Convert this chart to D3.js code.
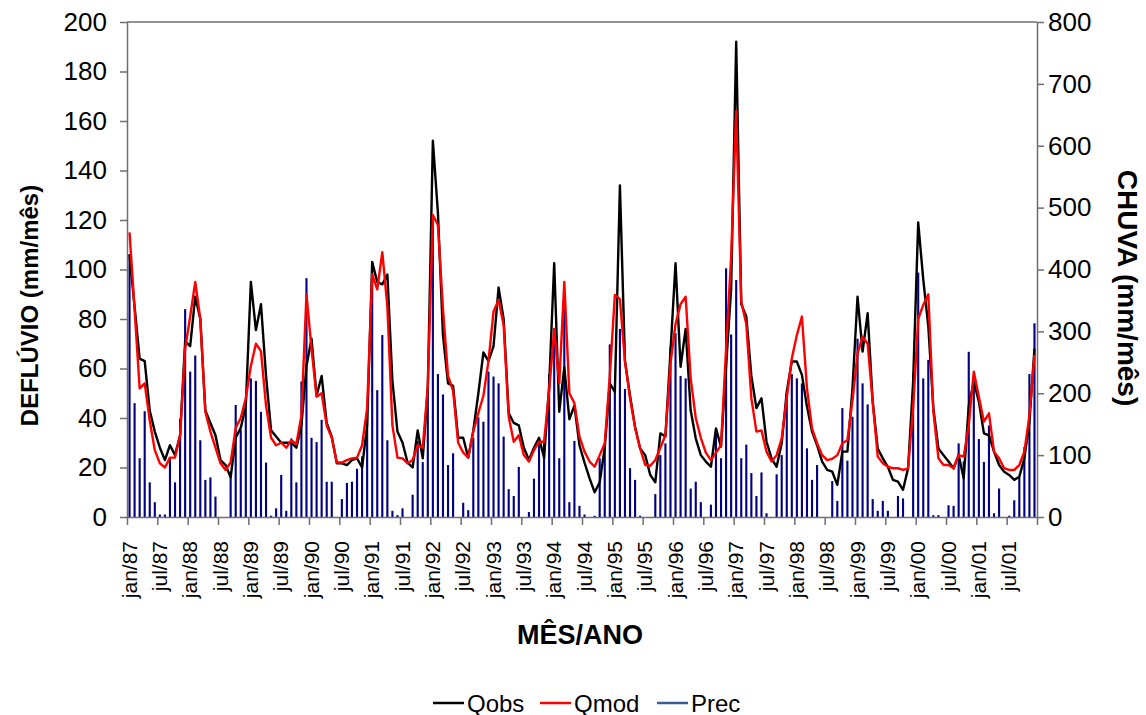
<!DOCTYPE html>
<html>
<head>
<meta charset="utf-8">
<script src="https://cdn.jsdelivr.net/npm/d3@7"></script>
<style>
  html, body { margin: 0; padding: 0; background: #fff; }
  svg { display: block; font-family: "Liberation Sans", Arial, sans-serif; }
</style>
</head>
<body>
<svg id="chart" width="1146" height="715"></svg>
<script>
// Monthly series, jan/1987 .. dez/2001
const years = ["87","88","89","90","91","92","93","94","95","96","97","98","99","00","01"];
const monthNames = ["jan","fev","mar","abr","mai","jun","jul","ago","set","out","nov","dez"];
const categories = years.flatMap(y => monthNames.map(m => m + "/" + y));

// Observed runoff (mm/mês)
const qobs = [
  106, 85, 64, 63, 43, 34.5, 28, 23, 29, 25, 33, 71,
  69, 89, 80, 43, 38, 33, 23, 21, 16, 32, 36, 45,
  95, 75.5, 86, 57, 35, 32.5, 30, 30, 30, 28, 37, 61,
  72, 49, 57, 38, 32.5, 21.7, 21.7, 21, 23, 23.7, 20, 37,
  103, 95, 94, 98, 55, 34.5, 30, 22, 20, 35, 23.7, 52,
  152, 123, 73.5, 54, 53, 32, 32, 24, 35, 50, 66.5, 63,
  69, 92.7, 80, 42, 38, 37, 28, 23, 28, 32, 24, 53,
  102.5, 42.5, 60.5, 39.5, 45, 29, 22, 15.6, 10, 14, 28, 54,
  50.6, 134, 63, 49, 36.5, 27.7, 25, 17, 14, 33.8, 32.5, 66.8,
  102.5, 60.7, 76, 43, 31.8, 25, 22.4, 20.3, 35.8, 28.4, 60.7, 92.4,
  192, 86, 81, 57, 44, 48, 30.4, 23.7, 20.3, 29.8, 50.6, 62.8,
  62.8, 57.4, 44.6, 34.5, 29, 22.4, 19, 18.3, 13, 26.4, 26.4, 52,
  89, 66.8, 82.3, 46.6, 27.7, 23.7, 20.3, 15, 14.3, 11, 19.7, 54.7,
  119, 96, 77, 44, 27.7, 25, 22.4, 19.7, 25, 15.6, 45, 54.7,
  46.6, 33.8, 33, 26.4, 21, 18.3, 17, 15, 16.3, 23.7, 38.5, 68
];

// Modelled runoff (mm/mês)
const qmod = [
  115, 84, 52, 54, 39, 27, 21.7, 20, 24, 24, 33, 68,
  81, 95, 80, 42.5, 34.5, 28, 21.7, 19, 22, 36, 40, 48,
  61, 70, 67, 45, 32, 29, 30, 28, 31, 29.5, 41, 90,
  68, 48.6, 50, 37, 32, 22, 22, 23, 23.7, 24, 29, 44,
  98, 92, 107, 85, 37, 24, 23.7, 21.7, 23, 29, 28, 53,
  122, 118, 84, 57, 51, 30, 26, 24, 34.5, 42, 49, 63,
  83, 87.7, 77.6, 40.5, 30.4, 33, 25, 22.4, 27, 30.4, 30.4, 51,
  76, 54, 95, 50, 46, 32.5, 26.4, 22.4, 20.3, 25, 29.8, 57,
  89.7, 88, 63, 48, 36, 27.7, 21, 20.7, 23, 28, 33, 62,
  78, 86, 89, 56, 40, 32, 26, 23, 26, 29, 68, 105,
  164, 87, 78, 48, 34.5, 35, 26.4, 22.4, 25, 31.8, 48, 64,
  73.5, 81, 52, 35.8, 29.8, 25, 23, 23.5, 25, 29.8, 31, 47,
  66, 72.9, 70, 46.6, 24.4, 21.7, 20.3, 19.7, 19.7, 19, 19.7, 44,
  80, 85.7, 90, 42.6, 23.7, 21, 21, 19.7, 25, 24.4, 37, 58.7,
  48.6, 38.5, 41.9, 26.4, 23.7, 19.7, 19, 19, 21, 26.4, 41, 65.5
];

// Rainfall (mm/mês)
const prec = [
  425, 184, 95, 171, 56, 24, 4, 4, 96, 56, 159, 336,
  235, 261, 124, 60, 64, 33, 0, 0, 68, 181, 141, 178,
  224, 220, 170, 88, 2, 14, 68, 10, 127, 56, 219, 386,
  128, 121, 157, 57, 57, 0, 29, 55, 57, 78, 98, 176,
  413, 205, 294, 124, 10, 3, 14, 0, 36, 123, 89, 211,
  477, 231, 198, 84, 103, 0, 23, 11, 128, 161, 154, 235,
  227, 216, 130, 45, 34, 81, 0, 8, 62, 127, 121, 231,
  281, 95, 337, 24, 123, 18, 4, 0, 2, 95, 115, 279,
  208, 304, 207, 79, 60, 2, 0, 0, 37, 100, 119, 275,
  297, 228, 224, 46, 57, 24, 0, 20, 141, 95, 402, 295,
  383, 95, 117, 71, 34, 72, 6, 0, 69, 100, 200, 231,
  224, 216, 111, 60, 84, 0, 0, 58, 26, 176, 91, 162,
  288, 216, 182, 29, 10, 26, 10, 0, 34, 30, 0, 231,
  395, 224, 254, 3, 3, 0, 19, 18, 119, 90, 267, 216,
  126, 89, 148, 6, 46, 0, 2, 27, 65, 113, 231, 313
];

const leftTicks = [0, 20, 40, 60, 80, 100, 120, 140, 160, 180, 200];
const rightTicks = [0, 100, 200, 300, 400, 500, 600, 700, 800];
const tickLabels = [
  "jan/87","jul/87","jan/88","jul/88","jan/89","jul/89","jan/90","jul/90",
  "jan/91","jul/91","jan/92","jul/92","jan/93","jul/93","jan/94","jul/94",
  "jan/95","jul/95","jan/96","jul/96","jan/97","jul/97","jan/98","jul/98",
  "jan/99","jul/99","jan/00","jul/00","jan/01","jul/01"
];

const svg = d3.select("#chart");
const plot = { left: 127, right: 1037, top: 22, bottom: 517 };

const x = d3.scaleBand().domain(categories).range([plot.left, plot.right]);
const xIdx = d3.scaleLinear().domain([0, categories.length]).range([plot.left, plot.right]);
const yL = d3.scaleLinear().domain([0, 200]).range([plot.bottom, plot.top]);
const yR = d3.scaleLinear().domain([0, 800]).range([plot.bottom, plot.top]);
const cx = c => x(c) + x.bandwidth() / 2;

const axisColor = "#6e6e6e";

// Plot frame (top border)
svg.append("line")
  .attr("x1", plot.left).attr("x2", plot.right)
  .attr("y1", plot.top).attr("y2", plot.top)
  .attr("stroke", axisColor).attr("stroke-width", 1.5);

// Rain bars (right axis)
const barW = x.bandwidth() * 0.42;
svg.append("g").selectAll("rect")
  .data(categories)
  .join("rect")
  .attr("x", c => cx(c) - barW / 2)
  .attr("width", barW)
  .attr("y", (c, i) => yR(prec[i]))
  .attr("height", (c, i) => plot.bottom - yR(prec[i]))
  .attr("fill", "#000080");

// Runoff lines (left axis)
const line = d3.line().x(d => cx(d.c)).y(d => yL(d.v));
svg.append("path")
  .datum(categories.map((c, i) => ({ c, v: qobs[i] })))
  .attr("fill", "none").attr("stroke", "#000").attr("stroke-width", 2.4)
  .attr("stroke-linejoin", "round")
  .attr("d", line);
svg.append("path")
  .datum(categories.map((c, i) => ({ c, v: qmod[i] })))
  .attr("fill", "none").attr("stroke", "#ff0000").attr("stroke-width", 2.4)
  .attr("stroke-linejoin", "round")
  .attr("d", line);

// Axes
function styleAxis(g) {
  g.select(".domain").attr("stroke", axisColor).attr("stroke-width", 1.5);
  g.selectAll(".tick line").attr("stroke", axisColor).attr("stroke-width", 1.5);
  g.selectAll(".tick text").attr("fill", "#000");
}

svg.append("g")
  .attr("transform", `translate(${plot.left},0)`)
  .call(d3.axisLeft(yL).tickValues(leftTicks).tickSize(7).tickSizeOuter(0).tickPadding(13))
  .call(styleAxis)
  .call(g => g.selectAll(".tick text").attr("font-size", 26));

svg.append("g")
  .attr("transform", `translate(${plot.right},0)`)
  .call(d3.axisRight(yR).tickValues(rightTicks).tickSize(7).tickSizeOuter(0).tickPadding(4))
  .call(styleAxis)
  .call(g => g.selectAll(".tick text").attr("font-size", 26));

// Category axis: ticks between months every 6 months
svg.append("g")
  .attr("transform", `translate(0,${plot.bottom})`)
  .call(d3.axisBottom(xIdx).tickValues(d3.range(0, categories.length + 1, 6)).tickSize(8).tickSizeOuter(0).tickFormat(""))
  .call(styleAxis);

svg.append("g").selectAll("text")
  .data(tickLabels)
  .join("text")
  .attr("transform", (d, k) => `translate(${cx(categories[k * 6]) + 7},${plot.bottom + 24}) rotate(-90)`)
  .attr("text-anchor", "end")
  .attr("font-size", 21)
  .attr("fill", "#000")
  .text(d => d);

// Axis titles
svg.append("text")
  .attr("transform", `translate(38,${(plot.top + plot.bottom) / 2 + 36}) rotate(-90)`)
  .attr("text-anchor", "middle")
  .attr("font-size", 24).attr("font-weight", "bold")
  .text("DEFLÚVIO (mm/mês)");

svg.append("text")
  .attr("transform", `translate(1118,288) rotate(90)`)
  .attr("text-anchor", "middle")
  .attr("font-size", 28).attr("font-weight", "bold")
  .text("CHUVA (mm/mês)");

svg.append("text")
  .attr("x", 580).attr("y", 644)
  .attr("text-anchor", "middle")
  .attr("font-size", 27).attr("font-weight", "bold")
  .text("MÊS/ANO");

// Legend
const legend = [
  { name: "Qobs", color: "#000", x: 433 },
  { name: "Qmod", color: "#ff0000", x: 540 },
  { name: "Prec", color: "#3b5b9b", x: 657 }
];
const lg = svg.append("g");
legend.forEach(d => {
  lg.append("line").attr("x1", d.x).attr("x2", d.x + 31)
    .attr("y1", 703).attr("y2", 703)
    .attr("stroke", d.color).attr("stroke-width", 2.5);
  lg.append("text").attr("x", d.x + 34).attr("y", 711.5)
    .attr("font-size", 24).attr("fill", "#000")
    .text(d.name);
});
</script>
</body>
</html>
